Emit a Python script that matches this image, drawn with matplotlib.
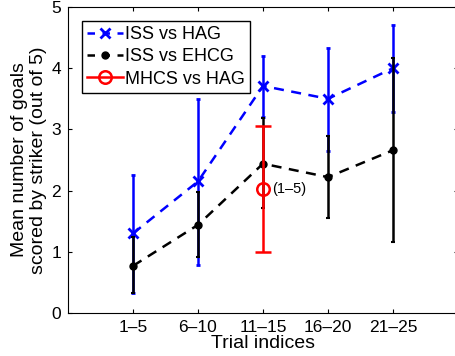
import matplotlib
matplotlib.use('Agg')
import matplotlib.pyplot as plt
from matplotlib.lines import Line2D

plt.rcParams['font.family'] = ['Liberation Sans', 'DejaVu Sans']

trials = ['1\u20135', '6\u201310', '11\u201315', '16\u201320', '21\u201325']
pos = [1, 2, 3, 4, 5]

# ISS vs HAG
hag_mean = [1.30, 2.15, 3.71, 3.50, 4.00]
hag_low = [0.33, 0.78, 3.20, 2.65, 3.29]
hag_high = [2.25, 3.50, 4.20, 4.33, 4.70]

# ISS vs EHCG
ehcg_mean = [0.77, 1.44, 2.44, 2.22, 2.66]
ehcg_low = [0.33, 0.92, 1.71, 1.55, 1.16]
ehcg_high = [1.25, 1.98, 3.18, 2.89, 4.17]

# MHCS vs HAG (trials 1-5 only)
mhcs_pos = [3]
mhcs_mean = [2.03]
mhcs_low = [1.00]
mhcs_high = [3.06]


def err(mean, low, high):
    return [[m - l for m, l in zip(mean, low)], [h - m for m, h in zip(mean, high)]]


fig = plt.figure(figsize=(4.56, 3.56), dpi=100)
ax = fig.add_axes([68 / 456, 43 / 356, 390 / 456, 306 / 356])

ax.errorbar(pos, hag_mean, yerr=err(hag_mean, hag_low, hag_high), color='blue',
            linestyle='--', marker='x', markersize=7, mew=2, lw=1.8, elinewidth=1.8,
            capsize=1.5, capthick=1.5, dashes=(4, 3), zorder=2)
ax.errorbar(pos, ehcg_mean, yerr=err(ehcg_mean, ehcg_low, ehcg_high), color='black',
            linestyle='--', marker='o', markersize=5, lw=1.8, elinewidth=1.8,
            capsize=1.5, capthick=1.5, dashes=(4, 3), zorder=3)
ax.errorbar(mhcs_pos, mhcs_mean, yerr=err(mhcs_mean, mhcs_low, mhcs_high), color='red',
            linestyle='-', marker='o', markersize=9, mfc='none', mew=1.8, lw=1.8,
            elinewidth=1.8, capsize=6, capthick=1.5, zorder=4)
ax.text(3.14, mhcs_mean[0], '(1\u20135)', fontsize=10.5, va='center', ha='left')

ax.set_xlim(0, 6)
ax.set_ylim(0, 5)
ax.set_xticks(pos)
ax.set_xticklabels(trials)
ax.set_yticks([0, 1, 2, 3, 4, 5])
ax.tick_params(direction='in', top=True, right=True, labelsize=12.5, length=3, pad=5)
ax.set_xlabel('Trial indices', fontsize=14, labelpad=0)
ax.set_ylabel('Mean number of goals\nscored by striker (out of 5)', fontsize=14, labelpad=3)

handles = [
    Line2D([], [], color='blue', linestyle='--', dashes=(3, 3), marker='x', markersize=7, mew=2, lw=1.8),
    Line2D([], [], color='black', linestyle='--', dashes=(3, 3), marker='o', markersize=5, lw=1.8),
    Line2D([], [], color='red', linestyle='-', marker='o', markersize=9, mfc='none', mew=1.8, lw=1.8),
]
labels = ['ISS vs HAG', 'ISS vs EHCG', 'MHCS vs HAG']
leg = ax.legend(handles, labels, loc='upper left', fontsize=13, fancybox=False,
                edgecolor='black', handlelength=2.0, borderaxespad=0.75, labelspacing=0.3,
                handletextpad=0.1, borderpad=0.3, framealpha=1)
leg.get_frame().set_linewidth(1.0)

fig.savefig('out.png', dpi=100)
